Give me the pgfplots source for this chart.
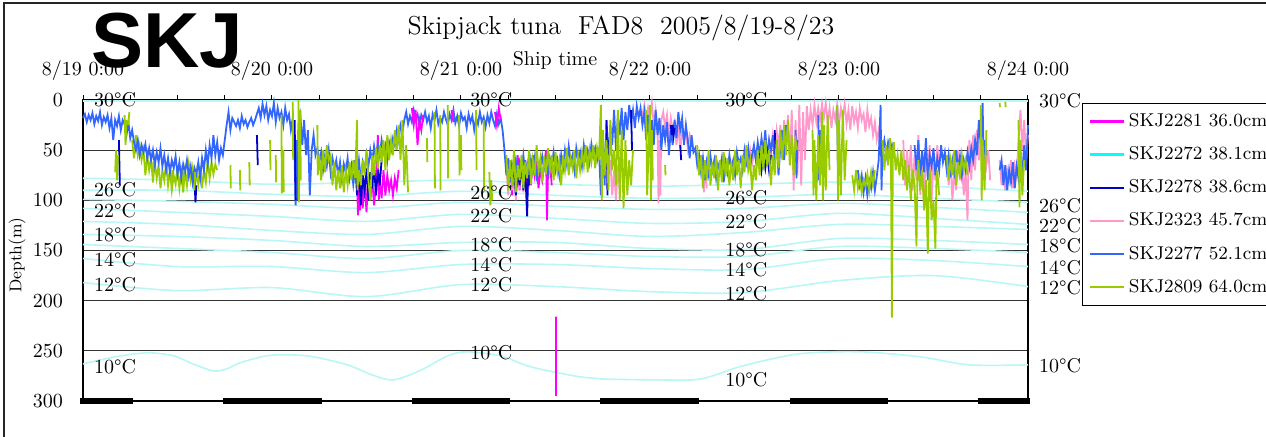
\documentclass[border=0pt]{standalone}
\usepackage{fontspec}
\usepackage{pgfplots}
\pgfplotsset{compat=1.18}
\newfontfamily\arialfont{Liberation Sans}
\definecolor{cMag}{RGB}{255,0,255}
\definecolor{cCyan}{RGB}{0,255,255}
\definecolor{cDark}{RGB}{0,0,204}
\definecolor{cPink}{RGB}{255,153,204}
\definecolor{cBlue}{RGB}{51,102,255}
\definecolor{cGreen}{RGB}{153,204,0}
\definecolor{cIso}{RGB}{185,246,246}
\begin{document}
\begin{tikzpicture}
\begin{axis}[
  at={(41.5pt,18pt)}, anchor=south west, scale only axis,
  width=472.5pt, height=150.5pt,
  xmin=0, xmax=5, ymin=0, ymax=300, y dir=reverse,
  clip=false, unbounded coords=jump,
  axis line style={black, line width=0.6pt},
  xtick={0,1,2,3,4,5},
  xticklabels={8/19 0:00,8/20 0:00,8/21 0:00,8/22 0:00,8/23 0:00,8/24 0:00},
  minor xtick={0.25,0.5,0.75,1.25,1.5,1.75,2.25,2.5,2.75,3.25,3.5,3.75,4.25,4.5,4.75},
  xtick pos=right, xticklabel pos=right,
  tick align=outside, major tick length=2.5pt, minor tick length=2.5pt,
  tick style={black, line width=0.5pt},
  ytick={0,50,100,150,200,250,300}, ytick style={draw=none},
  ymajorgrids, grid style={black!80, line width=0.5pt},
  tick label style={font=\fontsize{10}{12}\selectfont},
  yticklabel style={xshift=-4pt},
  xticklabel style={anchor=base, yshift=9.5pt},
  legend style={at={(1.057,0.99)}, anchor=north west, draw=black, line width=0.5pt,
    font=\fontsize{9.3}{11}\selectfont, row sep=4.5pt, inner sep=3pt, cells={anchor=west}},
]
% isotherms
\addplot[cIso, line width=0.8pt, forget plot] coordinates {(0,1) (1,1) (2,1) (3,1) (4,1) (5,1)};
\addplot[cIso, line width=0.8pt, smooth, forget plot] coordinates {(0,78) (0.5,80) (1,84) (1.5,82) (2,80) (2.5,84) (3,86) (3.5,84) (4,82) (4.5,86) (5,91)};
\addplot[cIso, line width=0.8pt, smooth, forget plot] coordinates {(0,90) (0.5,90) (1,94) (1.5,96) (2,91) (2.5,95) (3,98) (3.5,97) (4,94) (4.5,98) (5,102)};
\addplot[cIso, line width=0.8pt, smooth, forget plot] coordinates {(0,99) (0.5,101) (1,104) (1.5,108) (2,102) (2.5,106) (3,109) (3.5,108) (4,103) (4.5,107) (5,112)};
\addplot[cIso, line width=0.8pt, smooth, forget plot] coordinates {(0,108) (0.5,112) (1,116) (1.5,121) (2,114) (2.5,118) (3,123) (3.5,121) (4,113) (4.5,118) (5,124)};
\addplot[cIso, line width=0.8pt, smooth, forget plot] coordinates {(0,121) (0.5,124) (1,130) (1.5,134) (2,126) (2.5,130) (3,136) (3.5,132) (4,124) (4.5,126) (5,129)};
\addplot[cIso, line width=0.8pt, smooth, forget plot] coordinates {(0,134) (0.5,136) (1,140) (1.5,146) (2,142) (2.5,142) (3,148) (3.5,149) (4,138) (4.5,140) (5,144)};
\addplot[cIso, line width=0.8pt, smooth, forget plot] coordinates {(0,144) (0.5,148) (1,152) (1.5,158) (2,150) (2.5,152) (3,156) (3.5,156) (4,146) (4.5,148) (5,152)};
\addplot[cIso, line width=0.8pt, smooth, forget plot] coordinates {(0,158) (0.5,166) (1,166) (1.5,172) (2,164) (2.5,164) (3,168) (3.5,169) (4,158) (4.5,160) (5,166)};
\addplot[cIso, line width=0.8pt, smooth, forget plot] coordinates {(0,182) (0.5,190) (1,187) (1.5,196) (2,184) (2.5,186) (3,191) (3.5,192) (4,180) (4.5,175) (5,186)};
\addplot[cIso, line width=0.8pt, smooth, forget plot] coordinates {(0,263) (0.17,256) (0.34,252) (0.48,255) (0.58,263) (0.69,270) (0.76,268) (0.83,262) (0.97,255) (1.1,254) (1.22,256) (1.40,264) (1.53,274) (1.64,279) (1.78,270) (1.93,255) (2.03,251) (2.21,255) (2.37,266) (2.63,276) (2.74,278) (3.05,279) (3.27,278) (3.49,265) (3.79,253) (4.11,251) (4.43,256) (4.69,264) (5.0,264)};
% night bars
\addplot[black, line width=3pt, forget plot] coordinates {(-0.016,300) (0.265,300) (0.27,nan) (0.74,300) (1.265,300) (1.27,nan) (1.74,300) (2.26,300) (2.27,nan) (2.735,300) (3.26,300) (3.27,nan) (3.74,300) (4.26,300) (4.27,nan) (4.735,300) (5.01,300)};
% SKJ2281 magenta
\addplot[cMag, line width=0.9pt, forget plot] coordinates {(1.45,80) (1.455,115) (1.46,85) (1.465,110) (1.47,75) (1.48,108) (1.49,80) (1.50,112) (1.51,72) (1.52,100) (1.53,78) (1.54,105) (1.55,85) (1.56,35) (1.565,100) (1.57,80) (1.58,98) (1.59,70) (1.60,95) (1.61,75) (1.62,90) (1.63,80) (1.64,95) (1.65,78) (1.66,88) (1.67,70) (1.68,nan)
(2.26,60) (2.27,95) (2.28,70) (2.29,85) (2.30,55) (2.31,90) (2.32,65) (2.33,80) (2.34,60) (2.35,92) (2.36,70) (2.37,85) (2.38,55) (2.39,75) (2.40,62) (2.41,88) (2.42,70) (2.43,80) (2.44,65) (2.45,50) (2.455,120) (2.46,75) (2.47,60) (2.48,85) (2.49,nan)
(2.503,216) (2.503,295)};
% SKJ2323 pink
\addplot[cPink, line width=0.9pt, forget plot] coordinates {(2.24,65) (2.25,95) (2.26,70) (2.27,90) (2.28,60) (2.29,100) (2.30,75) (2.31,85) (2.32,62) (2.33,92) (2.34,70) (2.35,nan)
(2.79,60) (2.80,95) (2.81,70) (2.82,100) (2.83,65) (2.84,90) (2.85,nan)
(2.96,15) (2.97,5) (2.98,22) (2.99,8) (3.00,18) (3.01,3) (3.02,25) (3.03,10) (3.04,30) (3.045,103) (3.05,40) (3.055,95) (3.06,20) (3.07,12) (3.08,28) (3.09,15) (3.10,35) (3.11,18) (3.12,30) (3.13,22) (3.14,45) (3.15,25) (3.16,50) (3.17,30) (3.18,40) (3.19,28) (3.20,48) (3.21,35) (3.22,42) (3.23,nan)
(3.28,55) (3.285,92) (3.29,60) (3.30,88) (3.31,nan)
(3.51,55) (3.52,62) (3.53,50) (3.54,64) (3.55,52) (3.56,60) (3.57,48) (3.58,63) (3.59,50) (3.60,58) (3.61,45) (3.62,60) (3.63,40) (3.64,55) (3.65,35) (3.66,50) (3.67,30) (3.68,45) (3.69,25) (3.70,50) (3.71,20) (3.72,45) (3.73,15) (3.74,60) (3.75,10) (3.76,90) (3.77,20) (3.78,75) (3.79,5) (3.80,85) (3.81,12) (3.82,60) (3.83,6) (3.84,30) (3.85,10) (3.86,25) (3.87,5) (3.88,22) (3.89,8) (3.90,20) (3.91,4) (3.92,18) (3.93,3) (3.94,22) (3.95,8) (3.96,28) (3.97,10) (3.98,20) (3.99,5) (4.00,25) (4.01,8) (4.02,18) (4.03,4) (4.04,24) (4.05,10) (4.06,30) (4.07,6) (4.08,22) (4.09,12) (4.10,28) (4.11,8) (4.12,20) (4.13,14) (4.14,32) (4.15,10) (4.16,26) (4.17,18) (4.18,35) (4.19,22) (4.20,40) (4.21,30) (4.22,45) (4.23,50) (4.24,42) (4.25,55) (4.26,48) (4.27,58) (4.28,45) (4.29,52) (4.30,60) (4.31,nan)
(4.34,40) (4.35,85) (4.36,50) (4.37,78) (4.38,45) (4.39,90) (4.40,55) (4.41,80) (4.42,35) (4.43,95) (4.44,60) (4.45,100) (4.46,50) (4.47,75) (4.48,45) (4.49,100) (4.50,60) (4.51,80) (4.52,45) (4.53,70) (4.54,nan)
(4.57,55) (4.58,85) (4.59,60) (4.60,100) (4.61,70) (4.62,90) (4.63,50) (4.64,80) (4.65,60) (4.66,95) (4.67,70) (4.68,120) (4.685,60) (4.69,40) (4.70,80) (4.71,35) (4.72,70) (4.73,30) (4.74,60) (4.75,40) (4.76,75) (4.77,45) (4.78,65) (4.79,50) (4.80,80) (4.81,nan)
(4.85,60) (4.86,85) (4.87,65) (4.88,90) (4.89,70) (4.90,80) (4.91,60) (4.92,88) (4.93,65) (4.94,75) (4.95,40) (4.96,10) (4.97,50) (4.98,20) (4.99,60) (5.00,35)};
% SKJ2809 green, deep early section (drawn under blue)
\addplot[cGreen, line width=0.9pt, forget plot] coordinates {(0.26,40) (0.27,58) (0.28,35) (0.29,55) (0.30,45) (0.31,60) (0.32,50) (0.33,75) (0.34,55) (0.35,70) (0.36,58) (0.37,82) (0.38,62) (0.39,78) (0.40,65) (0.41,88) (0.42,70) (0.43,80) (0.44,62) (0.45,85) (0.46,70) (0.47,90) (0.48,75) (0.49,84) (0.50,66) (0.51,88) (0.52,72) (0.53,92) (0.54,70) (0.55,85) (0.56,64) (0.57,80) (0.58,68) (0.59,90) (0.60,72) (0.61,84) (0.62,66) (0.63,88) (0.64,70) (0.65,82) (0.66,60) (0.67,78) (0.68,62) (0.69,74) (0.70,64) (0.71,70)};
% SKJ2277 blue
\addplot[cBlue, line width=0.9pt, forget plot] coordinates {(0.00,18) (0.01,14) (0.02,22) (0.03,15) (0.04,20) (0.05,13) (0.06,24) (0.07,16) (0.08,21) (0.09,12) (0.10,25) (0.11,17) (0.12,22) (0.13,15) (0.14,28) (0.15,18) (0.16,40) (0.17,20) (0.18,26) (0.19,16) (0.20,30) (0.21,20) (0.22,24) (0.23,35) (0.24,22) (0.25,38) (0.26,30)
(0.27,42) (0.28,50) (0.29,40) (0.30,55) (0.31,45) (0.32,52) (0.33,44) (0.34,58) (0.35,48)
(0.36,60) (0.37,50) (0.38,65) (0.39,52) (0.40,62) (0.41,48) (0.42,66) (0.43,55) (0.44,70) (0.45,58) (0.46,72) (0.47,60) (0.48,68) (0.49,56) (0.50,74) (0.51,62) (0.52,78) (0.53,64) (0.54,72) (0.55,60) (0.56,76) (0.57,66) (0.58,82) (0.59,68) (0.60,74) (0.61,62) (0.62,78) (0.63,58) (0.64,70) (0.65,50) (0.66,64) (0.67,45) (0.68,58) (0.69,35) (0.70,55) (0.71,42) (0.72,60) (0.73,48) (0.74,55) (0.75,40)
(0.76,25) (0.77,12) (0.78,30) (0.79,18) (0.80,22) (0.81,26) (0.82,20) (0.83,28) (0.84,16) (0.85,24) (0.86,20) (0.87,27) (0.88,22) (0.89,18) (0.90,25) (0.91,20) (0.92,14)
(0.93,8) (0.94,18) (0.95,4) (0.96,15) (0.97,6) (0.98,20) (0.99,10) (1.00,16) (1.01,3) (1.02,22) (1.03,8) (1.04,18) (1.05,12) (1.06,25) (1.07,8) (1.08,20) (1.09,14) (1.10,30) (1.11,18)
(1.12,60) (1.125,105) (1.13,40) (1.135,100) (1.14,25) (1.15,15) (1.16,45) (1.17,20) (1.18,55) (1.19,30) (1.20,95) (1.21,50) (1.22,35)
(1.23,55) (1.24,48) (1.25,62) (1.26,52) (1.27,70) (1.28,56) (1.29,66) (1.30,50) (1.31,72) (1.32,58) (1.33,68) (1.34,60) (1.35,75) (1.36,62) (1.37,80) (1.38,64) (1.39,72) (1.40,58) (1.41,78) (1.42,66) (1.43,84) (1.44,68) (1.45,76) (1.46,60) (1.47,80) (1.48,62) (1.49,70) (1.50,54) (1.51,66) (1.52,50) (1.53,62) (1.54,46) (1.55,58) (1.56,44) (1.57,55) (1.58,40) (1.59,52) (1.60,45) (1.61,60) (1.62,42) (1.63,50)
(1.64,38) (1.65,45) (1.66,30) (1.67,40) (1.68,25) (1.69,32)
(1.70,20) (1.71,12) (1.72,24) (1.73,16) (1.74,22) (1.75,10) (1.76,18) (1.77,14) (1.78,26) (1.79,15) (1.80,20) (1.81,12) (1.82,22) (1.83,16) (1.84,28) (1.85,14) (1.86,20) (1.87,10) (1.88,24) (1.89,18) (1.90,22) (1.91,12) (1.92,19) (1.93,25) (1.94,14) (1.95,20) (1.96,10) (1.97,23) (1.98,16) (1.99,26) (2.00,13) (2.01,20) (2.02,17) (2.03,28) (2.04,14) (2.05,22) (2.06,16) (2.07,30) (2.08,18) (2.09,24) (2.10,12) (2.11,22) (2.12,17) (2.13,27) (2.14,15) (2.15,23) (2.16,12) (2.17,20) (2.18,26) (2.19,14) (2.20,24) (2.21,18) (2.22,30)
(2.23,50) (2.24,75) (2.25,58) (2.26,82) (2.27,64) (2.28,72)
(2.29,60) (2.30,78) (2.31,62) (2.32,70) (2.33,55) (2.34,74) (2.35,64) (2.36,80) (2.37,60) (2.38,72) (2.39,58) (2.40,76) (2.41,66) (2.42,70) (2.43,56) (2.44,68) (2.45,60) (2.46,74) (2.47,58) (2.48,66) (2.49,52) (2.50,70) (2.51,60) (2.52,75) (2.53,55) (2.54,68) (2.55,50) (2.56,64) (2.57,46) (2.58,62) (2.59,55) (2.60,70) (2.61,48) (2.62,60) (2.63,52) (2.64,66) (2.65,45) (2.66,58) (2.67,50) (2.68,62) (2.69,44) (2.70,56) (2.71,48) (2.72,60)
(2.73,50) (2.74,95) (2.75,30) (2.76,85) (2.77,20) (2.78,60) (2.79,25) (2.80,45) (2.81,10) (2.82,50) (2.83,15) (2.84,35) (2.85,8) (2.86,40) (2.87,12) (2.88,30) (2.89,5) (2.90,22) (2.91,10) (2.92,28) (2.93,6) (2.94,18) (2.95,8) (2.96,25) (2.97,12) (2.98,40) (2.99,15) (3.00,55) (3.01,20) (3.02,45) (3.03,10) (3.04,35) (3.05,18) (3.06,50) (3.07,25) (3.08,40) (3.09,22) (3.10,55) (3.11,30) (3.12,45) (3.13,20) (3.14,38) (3.15,12) (3.16,30) (3.17,18) (3.18,45) (3.19,25)
(3.20,40) (3.21,58) (3.22,35) (3.23,52) (3.24,48) (3.25,65) (3.26,55) (3.27,72) (3.28,58) (3.29,80) (3.30,62) (3.31,74) (3.32,56) (3.33,70) (3.34,60) (3.35,78) (3.36,64) (3.37,70) (3.38,58) (3.39,82) (3.40,62) (3.41,72) (3.42,55) (3.43,68) (3.44,60) (3.45,75) (3.46,52) (3.47,64) (3.48,58) (3.49,70) (3.50,50) (3.51,62) (3.52,48) (3.53,66) (3.54,55)
(3.55,45) (3.56,60) (3.57,42) (3.58,55) (3.59,38) (3.60,52) (3.61,30) (3.62,58) (3.63,40) (3.64,50) (3.65,35) (3.66,62) (3.67,40) (3.68,75) (3.69,45) (3.70,30) (3.71,60) (3.72,25) (3.73,nan)
(3.77,30) (3.775,78) (3.78,40) (3.79,nan) (3.89,15) (3.895,80) (3.90,30) (3.91,nan) (3.99,5) (3.995,75) (4.00,20) (4.01,nan)
(4.10,70) (4.11,85) (4.12,75) (4.13,92) (4.14,78) (4.15,95) (4.16,80) (4.17,88) (4.18,72) (4.19,90) (4.20,76) (4.21,60) (4.22,5) (4.225,90) (4.23,50) (4.24,40) (4.25,55) (4.26,42) (4.27,50) (4.28,45) (4.29,57) (4.30,nan)
(4.40,45) (4.41,70) (4.42,40) (4.43,78) (4.44,50) (4.45,72) (4.46,38) (4.47,80) (4.48,55) (4.49,66) (4.50,48) (4.51,75) (4.52,58) (4.53,70) (4.54,45) (4.55,62) (4.56,52) (4.57,70) (4.58,55) (4.59,77) (4.60,60) (4.61,72) (4.62,50) (4.63,68) (4.64,56) (4.65,75) (4.66,60) (4.67,70) (4.68,52) (4.69,66) (4.70,48) (4.71,60) (4.72,40) (4.73,55) (4.74,20) (4.75,45) (4.76,3) (4.765,60) (4.77,40) (4.78,55) (4.79,nan)
(4.85,70) (4.86,60) (4.87,85) (4.88,65) (4.89,90) (4.90,70) (4.91,82) (4.92,62) (4.93,88) (4.94,66) (4.95,78) (4.96,58) (4.97,72) (4.98,45) (4.99,70) (5.00,25)};
% SKJ2281 magenta bits near the surface
\addplot[cMag, line width=0.9pt, forget plot] coordinates {(1.74,8) (1.75,25) (1.76,10) (1.77,45) (1.78,20) (1.79,30) (1.80,15) (1.81,nan) (1.95,10) (1.96,22) (1.97,nan) (2.18,12) (2.19,25) (2.20,8) (2.21,20)};
% SKJ2278 dark blue
\addplot[cDark, line width=0.9pt, forget plot] coordinates {(0.19,40) (0.195,85) (0.20,nan) (0.59,80) (0.595,102) (0.60,85) (0.61,nan) (0.92,35) (0.925,65) (0.93,nan) (1.12,20) (1.125,100) (1.13,nan)
(1.44,60) (1.45,95) (1.46,70) (1.47,105) (1.48,75) (1.49,90) (1.50,68) (1.51,100) (1.52,72) (1.53,88) (1.54,65) (1.55,95) (1.56,70) (1.57,85) (1.58,60) (1.59,nan)
(2.26,60) (2.27,80) (2.28,65) (2.29,95) (2.30,70) (2.31,85) (2.32,60) (2.33,90) (2.34,70) (2.35,116) (2.355,75) (2.36,85) (2.37,65) (2.38,nan)
(2.77,20) (2.775,95) (2.78,40) (2.79,nan) (2.90,10) (2.905,50) (2.91,nan) (3.11,25) (3.115,35) (3.12,25) (3.125,35) (3.13,28) (3.14,nan) (3.16,45) (3.165,60) (3.17,nan)
(3.58,53) (3.59,70) (3.60,55) (3.61,68) (3.62,53) (3.63,70) (3.64,55) (3.65,nan) (3.66,30) (3.665,55)};
% SKJ2809 green
\addplot[cGreen, line width=0.9pt, forget plot] coordinates {(0.17,72) (0.175,50) (0.18,80) (0.185,55) (0.19,nan) (0.22,15) (0.225,45) (0.23,20) (0.235,nan) (0.24,25) (0.245,12) (0.25,nan)
(0.37,82) (0.372,62) (0.38,nan) (0.47,90) (0.472,70) (0.48,nan) (0.53,92) (0.532,70) (0.54,nan) (0.59,90) (0.592,72) (0.60,nan)
(0.78,65) (0.782,88) (0.79,nan) (0.83,70) (0.832,90) (0.84,nan) (0.88,62) (0.882,85) (0.89,nan) (0.99,40) (0.992,70) (0.995,nan) (1.02,55) (1.022,82) (1.03,nan) (1.05,15) (1.052,93) (1.06,50) (1.062,92) (1.07,nan) (1.11,2) (1.112,60) (1.12,nan) (1.14,0) (1.142,102) (1.15,10) (1.152,80) (1.16,nan)
(1.24,25) (1.242,75) (1.25,55) (1.26,80) (1.27,50) (1.28,72) (1.29,45) (1.30,60) (1.31,55) (1.32,85) (1.33,62) (1.34,90) (1.35,70) (1.36,88) (1.37,65) (1.38,92) (1.39,70) (1.40,85) (1.41,62) (1.42,80) (1.43,60) (1.44,78) (1.45,20) (1.452,90) (1.46,70) (1.47,85) (1.48,60) (1.49,75) (1.50,50) (1.51,80) (1.52,100) (1.53,55) (1.54,75) (1.55,48) (1.56,68) (1.57,45) (1.58,62) (1.59,40) (1.60,70) (1.61,35) (1.62,60) (1.63,40) (1.64,55) (1.65,30) (1.66,50) (1.67,25) (1.68,60) (1.69,20) (1.70,85) (1.71,45) (1.72,92) (1.73,nan)
(1.82,38) (1.822,62) (1.83,nan) (1.86,12) (1.862,88) (1.87,nan) (1.89,15) (1.892,90) (1.90,nan) (1.93,5) (1.932,78) (1.94,nan) (1.99,15) (1.992,75) (2.00,35) (2.002,70) (2.01,nan) (2.08,10) (2.082,70) (2.09,nan) (2.12,20) (2.122,90) (2.13,nan) (2.15,72) (2.155,105) (2.16,80) (2.165,100) (2.17,nan)
(2.24,55) (2.25,90) (2.26,60) (2.27,85) (2.28,50) (2.29,92) (2.30,65) (2.31,80) (2.32,55) (2.33,88) (2.34,62) (2.35,78) (2.36,50) (2.37,84) (2.38,60) (2.39,75) (2.40,45) (2.41,70) (2.42,58) (2.43,82) (2.44,56) (2.45,74) (2.46,48) (2.47,70) (2.48,55) (2.49,80) (2.50,52) (2.51,72) (2.52,60) (2.53,85) (2.54,55) (2.55,70) (2.56,48) (2.57,75) (2.58,58) (2.59,68) (2.60,50) (2.61,78) (2.62,55) (2.63,70) (2.64,52) (2.65,66) (2.66,45) (2.67,72) (2.68,50) (2.69,62) (2.70,45) (2.71,68) (2.72,48) (2.73,60)
(2.74,5) (2.745,100) (2.75,30) (2.76,75) (2.77,40) (2.78,90) (2.79,20) (2.80,70) (2.81,50) (2.82,85) (2.83,10) (2.84,100) (2.85,30) (2.86,108) (2.87,40) (2.88,95) (2.89,60) (2.90,85) (2.91,50) (2.92,nan)
(2.98,10) (2.985,95) (3.00,5) (3.005,100) (3.01,30) (3.015,80) (3.02,nan) (3.08,65) (3.082,75) (3.09,nan)
(3.25,45) (3.26,75) (3.27,55) (3.28,88) (3.29,60) (3.30,80) (3.31,50) (3.32,85) (3.33,62) (3.34,78) (3.35,55) (3.36,90) (3.37,60) (3.38,82) (3.39,52) (3.40,76) (3.41,58) (3.42,85) (3.43,62) (3.44,80) (3.45,50) (3.46,75) (3.47,60) (3.48,88) (3.49,55) (3.50,72) (3.51,45) (3.52,70) (3.53,60) (3.54,90) (3.55,65) (3.56,80) (3.57,50) (3.58,75) (3.59,45) (3.60,70) (3.61,40) (3.62,65) (3.63,50) (3.64,85) (3.65,55) (3.66,75) (3.67,40) (3.68,68) (3.69,30) (3.70,60) (3.71,25) (3.72,55) (3.73,20) (3.74,65) (3.75,35) (3.76,75) (3.77,40) (3.78,50) (3.79,nan)
(3.86,30) (3.865,95) (3.87,40) (3.88,100) (3.89,35) (3.90,85) (3.91,12) (3.915,100) (3.92,25) (3.93,90) (3.94,15) (3.95,70) (3.96,nan) (3.99,5) (3.995,100) (4.00,20) (4.01,95) (4.02,10) (4.03,80) (4.04,40) (4.05,nan)
(4.07,75) (4.08,90) (4.09,70) (4.10,88) (4.11,78) (4.12,92) (4.13,80) (4.14,86) (4.15,74) (4.16,90) (4.17,72) (4.18,85) (4.19,70) (4.20,nan)
(4.23,40) (4.24,70) (4.25,45) (4.26,65) (4.27,38) (4.275,60) (4.28,217) (4.285,50) (4.29,42) (4.30,70) (4.31,55) (4.32,75) (4.33,50) (4.34,80) (4.35,60) (4.36,90) (4.37,65) (4.38,100) (4.39,70) (4.40,85) (4.41,146) (4.415,75) (4.42,60) (4.43,90) (4.44,70) (4.45,110) (4.46,80) (4.47,153) (4.475,90) (4.48,70) (4.49,120) (4.50,100) (4.51,148) (4.515,85) (4.52,70) (4.53,95) (4.54,nan)
(4.57,55) (4.58,80) (4.59,60) (4.60,75) (4.61,50) (4.62,85) (4.63,62) (4.64,78) (4.65,55) (4.66,70) (4.67,60) (4.68,75) (4.69,nan)
(4.75,5) (4.755,100) (4.76,40) (4.77,90) (4.78,30) (4.79,nan) (4.85,3) (4.852,7) (4.86,nan) (4.88,2) (4.882,7) (4.89,nan) (4.95,20) (4.955,107) (4.96,40) (4.97,95) (4.98,60)};
% legend
\addlegendimage{cMag, line width=1.2pt}\addlegendentry{SKJ2281 36.0cm}
\addlegendimage{cCyan, line width=1.2pt}\addlegendentry{SKJ2272 38.1cm}
\addlegendimage{cDark, line width=1.2pt}\addlegendentry{SKJ2278 38.6cm}
\addlegendimage{cPink, line width=1.2pt}\addlegendentry{SKJ2323 45.7cm}
\addlegendimage{cBlue, line width=1.2pt}\addlegendentry{SKJ2277 52.1cm}
\addlegendimage{cGreen, line width=1.2pt}\addlegendentry{SKJ2809 64.0cm}
% isotherm labels
\begin{scope}[every node/.style={font=\fontsize{10}{12}\selectfont, inner sep=0pt}]
\node at (axis cs:0.17,0) {30°C};
\node at (axis cs:0.17,89) {26°C};
\node at (axis cs:0.17,110) {22°C};
\node at (axis cs:0.17,134) {18°C};
\node at (axis cs:0.17,159) {14°C};
\node at (axis cs:0.17,184) {12°C};
\node at (axis cs:0.17,266) {10°C};
\node at (axis cs:2.16,0) {30°C};
\node at (axis cs:2.16,92) {26°C};
\node at (axis cs:2.16,115) {22°C};
\node at (axis cs:2.16,144) {18°C};
\node at (axis cs:2.16,164) {14°C};
\node at (axis cs:2.16,184) {12°C};
\node at (axis cs:2.16,252) {10°C};
\node at (axis cs:3.51,0) {30°C};
\node at (axis cs:3.51,97) {26°C};
\node at (axis cs:3.51,121) {22°C};
\node at (axis cs:3.51,149) {18°C};
\node at (axis cs:3.51,169) {14°C};
\node at (axis cs:3.51,193) {12°C};
\node at (axis cs:3.51,279) {10°C};
\node at (axis cs:5.17,1) {30°C};
\node at (axis cs:5.17,105) {26°C};
\node at (axis cs:5.17,125) {22°C};
\node at (axis cs:5.17,145) {18°C};
\node at (axis cs:5.17,167) {14°C};
\node at (axis cs:5.17,187) {12°C};
\node at (axis cs:5.17,265) {10°C};
\end{scope}
\end{axis}
\node[font=\fontsize{13}{15}\selectfont, anchor=base] at (310.5pt,201pt) {Skipjack tuna\ \ FAD8\ \ 2005/8/19-8/23};
\node[font=\fontsize{10}{12}\selectfont] at (277.5pt,188.5pt) {Ship time};
\node[font=\fontsize{8.5}{10}\selectfont, rotate=90] at (8.5pt,91pt) {Depth(m)};
\node[font=\arialfont\bfseries\fontsize{39}{40}\selectfont, anchor=base, inner sep=0pt] at (83.5pt,184.5pt) {SKJ};
\draw[black!85, line width=1pt] (1.75pt,-10pt) rectangle (700pt,216.75pt);
\pgfresetboundingbox
\path[use as bounding box] (0pt,0pt) rectangle (633pt,218.5pt);
\end{tikzpicture}
\end{document}
